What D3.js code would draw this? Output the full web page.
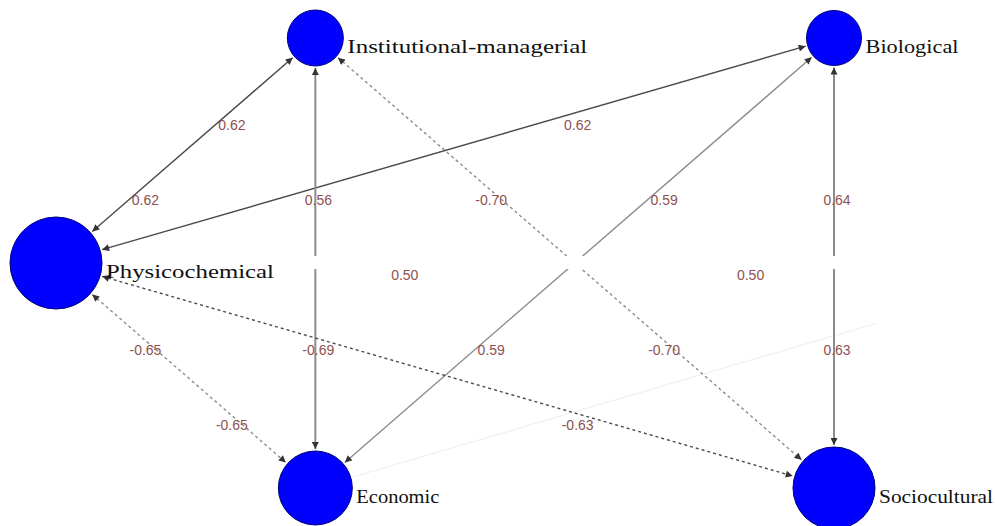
<!DOCTYPE html>
<html>
<head>
<meta charset="utf-8">
<script src="https://cdn.jsdelivr.net/npm/d3@7"></script>
<style>
  html, body { margin: 0; padding: 0; background: #fff; }
  svg { display: block; }
</style>
</head>
<body>
<div id="chart"></div>
<script>
// nodes (grid layout: 9 columns x 6 rows)
const nodeNames = ["Institutional-managerial", "Biological", "Physicochemical", "Economic", "Sociocultural"];
const nodeCol = [3, 9, 0, 3, 9];
const nodeRow = [0, 0, 3, 6, 6];
const nodeVsize = [5.6, 5.5, 9.2, 7.4, 8.2];

// edges (indices into nodeNames), weight sign decides the line type
const edgeFrom = [0, 2, 0, 1, 3, 0, 2, 2];
const edgeTo = [2, 1, 3, 4, 1, 4, 3, 4];
const edgeWeight = [0.62, 0.62, 0.56, 0.64, 0.59, -0.70, -0.65, -0.63];

// edge labels placed on the same grid
const labelText = ["0.62", "0.62", "0.62", "0.56", "-0.70", "0.59", "0.64", "0.50", "0.50",
                   "-0.65", "-0.69", "0.59", "-0.70", "0.63", "-0.65", "-0.63"];
const labelCol = [2, 1, 6, 3, 5, 7, 9, 4, 8, 1, 3, 5, 7, 9, 2, 6];
const labelRow = [1, 2, 1, 2, 2, 2, 2, 3, 3, 4, 4, 4, 4, 4, 5, 5];

// hidden (white) label boxes on row 3
const maskCol = [3, 6, 9];
const maskRow = [3, 3, 3];

const width = 995, height = 526;

const x = d3.scaleLinear().domain([0, 9]).range([56, 834]);
const y = d3.scaleLinear().domain([0, 6]).range([38, 488]);
const r = d3.scaleLinear().domain([0, 10]).range([0, 50]);

const nodes = nodeNames.map((name, i) => ({
    name, cx: x(nodeCol[i]), cy: y(nodeRow[i]), r: r(nodeVsize[i])
}));

const edges = edgeFrom.map((f, i) => ({ source: nodes[f], target: nodes[edgeTo[i]], w: edgeWeight[i], i }));

const svg = d3.select("#chart").append("svg")
    .attr("width", width)
    .attr("height", height)
    .attr("viewBox", `0 0 ${width} ${height}`);

svg.append("rect").attr("width", width).attr("height", height).attr("fill", "#fff");

const defs = svg.append("defs");
defs.append("marker")
    .attr("id", "arrow")
    .attr("viewBox", "0 0 10 10")
    .attr("refX", 10)
    .attr("refY", 5)
    .attr("markerUnits", "userSpaceOnUse")
    .attr("markerWidth", 8)
    .attr("markerHeight", 7)
    .attr("orient", "auto-start-reverse")
    .append("path")
    .attr("d", "M0,0 L10,5 L0,10 Z")
    .attr("fill", "#333");

// faint edge leaving Economic
const econ = nodes[3];
const faintEnd = { x: x(9.5), y: y(3.8) };
const fa = Math.atan2(faintEnd.y - econ.cy, faintEnd.x - econ.cx);
svg.append("line")
    .attr("x1", econ.cx + Math.cos(fa) * (econ.r + 2))
    .attr("y1", econ.cy + Math.sin(fa) * (econ.r + 2))
    .attr("x2", faintEnd.x)
    .attr("y2", faintEnd.y)
    .attr("stroke", "#f0f0f0")
    .attr("stroke-width", 1.2);

// darker edges around Physicochemical, grey for the rest
const darkEdges = [0, 1, 7];
const thickEdges = [2, 3];

svg.append("g").selectAll("line.edge")
    .data(edges)
    .join("line")
    .attr("class", "edge")
    .each(function (d) {
        const a = Math.atan2(d.target.cy - d.source.cy, d.target.cx - d.source.cx);
        d3.select(this)
            .attr("x1", d.source.cx + Math.cos(a) * (d.source.r + 2))
            .attr("y1", d.source.cy + Math.sin(a) * (d.source.r + 2))
            .attr("x2", d.target.cx - Math.cos(a) * (d.target.r + 2))
            .attr("y2", d.target.cy - Math.sin(a) * (d.target.r + 2));
    })
    .attr("stroke", d => darkEdges.includes(d.i) ? "#4a4a4a" : "#8c8c8c")
    .attr("stroke-width", d => thickEdges.includes(d.i) ? 2 : 1.4)
    .attr("stroke-dasharray", d => d.w < 0 ? "3,3" : null)
    .attr("marker-start", "url(#arrow)")
    .attr("marker-end", "url(#arrow)");

// white boxes that break the lines on the middle row
svg.append("g").selectAll("rect")
    .data(maskCol)
    .join("rect")
    .attr("x", (d, i) => x(d) - 10)
    .attr("y", (d, i) => y(maskRow[i]) - 7)
    .attr("width", 20)
    .attr("height", 13)
    .attr("fill", "#fff");

// edge labels
svg.append("g").selectAll("text")
    .data(labelText)
    .join("text")
    .attr("x", (d, i) => x(labelCol[i]) + 3)
    .attr("y", (d, i) => y(labelRow[i]) + 12)
    .attr("dy", "0.35em")
    .attr("text-anchor", "middle")
    .attr("font-family", "'Liberation Sans', Arial, sans-serif")
    .attr("font-size", 14)
    .attr("fill", "#8f5050")
    .text(d => d);

// nodes
svg.append("g").selectAll("circle")
    .data(nodes)
    .join("circle")
    .attr("cx", d => d.cx)
    .attr("cy", d => d.cy)
    .attr("r", d => d.r)
    .attr("fill", "#0000ff")
    .attr("stroke", "#00007a")
    .attr("stroke-width", 1);

// node labels
const labelWidth = [240, 93, 168, 83, 114];
svg.append("g").selectAll("text")
    .data(nodes)
    .join("text")
    .attr("x", d => d.cx + d.r + 4)
    .attr("y", d => d.cy + 15)
    .attr("font-family", "'Liberation Serif', 'Times New Roman', serif")
    .attr("font-size", 18)
    .attr("fill", "#111")
    .attr("textLength", (d, i) => labelWidth[i])
    .attr("lengthAdjust", "spacingAndGlyphs")
    .text(d => d.name);
</script>
</body>
</html>
